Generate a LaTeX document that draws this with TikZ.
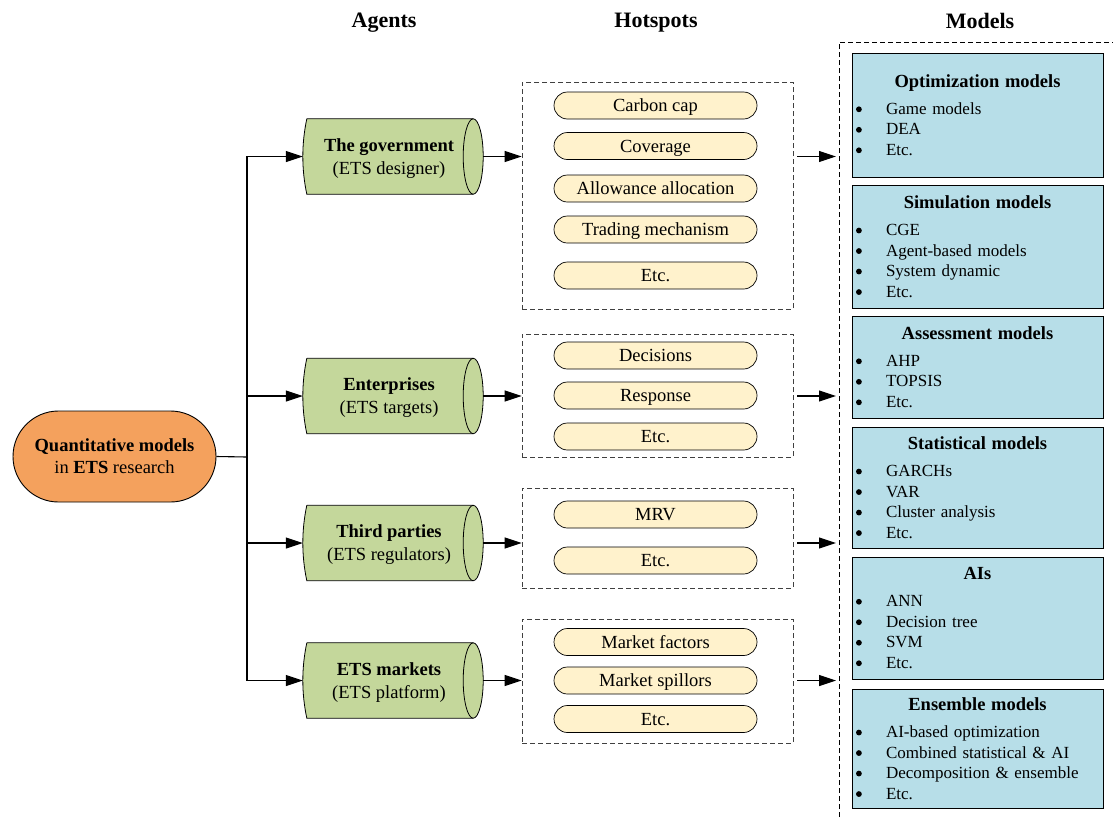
\documentclass[tikz,border=0pt]{standalone}
\usepackage{fontspec}
\setmainfont{Liberation Serif}
\usetikzlibrary{arrows.meta,shapes.misc,calc}
\definecolor{qorange}{HTML}{F4A15D}
\definecolor{agreen}{HTML}{C4D79B}
\definecolor{hyellow}{HTML}{FFF2CC}
\definecolor{mblue}{HTML}{B7DEE8}
\newcommand\cylshape[1]{%
  \fill[agreen] ([xshift=4pt]#1.north west) -- ([xshift=-10pt]#1.north east)
    .. controls +(5.5,0) and +(0,-20.7) .. (#1.east)
    .. controls +(0,20.7) and +(5.5,0) .. ([xshift=-10pt]#1.south east)
    -- ([xshift=4pt]#1.south west)
    .. controls +(-5.3,-25) and +(-5.3,25) .. ([xshift=4pt]#1.north west) -- cycle;
  \draw[line width=0.8pt] ([xshift=4pt]#1.north west) -- ([xshift=-10pt]#1.north east)
    .. controls +(5.5,0) and +(0,-20.7) .. (#1.east)
    .. controls +(0,20.7) and +(5.5,0) .. ([xshift=-10pt]#1.south east)
    -- ([xshift=4pt]#1.south west)
    .. controls +(-5.3,-25) and +(-5.3,25) .. ([xshift=4pt]#1.north west);
  \draw[line width=0.8pt] ([xshift=-10pt]#1.north east)
    .. controls +(-5.5,0) and +(0,-20.7) .. ([xshift=-20pt]#1.east)
    .. controls +(0,20.7) and +(-5.5,0) .. ([xshift=-10pt]#1.south east);
}
\newcommand\mhead[1]{{\centering\fontsize{18.5}{20}\selectfont\bfseries #1\par}\vspace{6.5pt}}
\newcommand\mbul{\tikz[baseline=-5pt]\fill[black] (0,0) circle (2.9pt);}
\newcommand\mitem[1]{\makebox[30pt][l]{\mbul}#1\par}
\begin{document}
\begin{tikzpicture}[x=1pt,y=-1pt,
  conn/.style={line width=1.1pt},
  arr/.style={line width=1.1pt,-{Triangle[length=17pt,width=11pt]}},
  agent/.style={minimum width=180pt,minimum height=75pt,inner sep=0pt,align=center,font=\fontsize{18.5}{23}\selectfont},
  hotbox/.style={draw=black!75,dash pattern=on 5pt off 3pt,line width=0.8pt,minimum width=271pt,inner sep=0pt},
  pill/.style={rounded rectangle,draw,fill=hyellow,line width=0.7pt,minimum width=203pt,minimum height=27pt,inner sep=0pt,text height=12pt,text depth=0pt,font=\fontsize{18.5}{20}\selectfont},
  modelbox/.style={draw,fill=mblue,line width=0.8pt,text width=243pt,inner xsep=4pt,inner ysep=0pt,font=\fontsize{17}{20.5}\selectfont},
  header/.style={font=\fontsize{22}{24}\selectfont\bfseries},
  modeldash/.style={draw=black,dash pattern=on 5pt off 3pt,line width=0.8pt}
]
\useasboundingbox (0,0) rectangle (1113,817);

% headers
\node[header] (hA) at (384,23) {Agents};
\node[header] (hH) at (656,23) {Hotspots};
\node[header] (hM) at (980,21) {Models};

% root
\node[rounded rectangle,draw,fill=qorange,line width=0.9pt,minimum width=203pt,minimum height=91pt,inner sep=0pt,align=center,font=\fontsize{18.5}{22}\selectfont] (q) at (114.5,456.5)
  {\textbf{Quantitative models}\\in \textbf{ETS} research};

% agents
\node[agent] (gov) at (393,156.5) {};
\node[agent] (ent) at (393,396) {};
\node[agent] (third) at (393,543) {};
\node[agent] (mkt) at (393,680.5) {};
\cylshape{gov}\cylshape{ent}\cylshape{third}\cylshape{mkt}
\node[agent,xshift=-4pt,yshift=-2pt] (govt) at (gov) {\textbf{The government}\\(ETS designer)};
\node[agent,xshift=-4pt,yshift=-2pt] (entt) at (ent) {\textbf{Enterprises}\\(ETS targets)};
\node[agent,xshift=-4pt,yshift=-2pt] (thirdt) at (third) {\textbf{Third parties}\\(ETS regulators)};
\node[agent,xshift=-4pt,yshift=-2pt] (mktt) at (mkt) {\textbf{ETS markets}\\(ETS platform)};

% hotspot boxes
\node[hotbox,minimum height=227pt] (hot1) at (657.5,195.5) {};
\node[hotbox,minimum height=123pt] (hot2) at (657.5,395.5) {};
\node[hotbox,minimum height=100pt] (hot3) at (657.5,538) {};
\node[hotbox,minimum height=124pt] (hot4) at (657.5,681) {};

\node[pill] (p11) at (655.5,105.5) {Carbon cap};
\node[pill] (p12) at (655.5,146) {Coverage};
\node[pill] (p13) at (655.5,188.5) {Allowance allocation};
\node[pill] (p14) at (655.5,229.5) {Trading mechanism};
\node[pill] (p15) at (655.5,275.5) {Etc.};
\node[pill] (p21) at (655.5,355.5) {Decisions};
\node[pill] (p22) at (655.5,395.5) {Response};
\node[pill] (p23) at (655.5,436.5) {Etc.};
\node[pill] (p31) at (655.5,514.5) {MRV};
\node[pill] (p32) at (655.5,560.5) {Etc.};
\node[pill] (p41) at (655.5,642) {Market factors};
\node[pill] (p42) at (655.5,680.5) {Market spillors};
\node[pill] (p43) at (655.5,719) {Etc.};

% models container
\coordinate (mleft) at (839,42);
\draw[modeldash] (839,817) -- (mleft) -- (1113,42);

\node[modelbox,minimum height=124pt] (m1) at (977.5,115)
  {\mhead{Optimization models}\mitem{Game models}\mitem{DEA}\mitem{Etc.}};
\node[modelbox,minimum height=123pt] (m2) at (977.5,246.5)
  {\mhead{Simulation models}\mitem{CGE}\mitem{Agent-based models}\mitem{System dynamic}\mitem{Etc.}};
\node[modelbox,minimum height=102pt] (m3) at (977.5,367)
  {\mhead{Assessment models}\mitem{AHP}\mitem{TOPSIS}\mitem{Etc.}};
\node[modelbox,minimum height=121pt] (m4) at (977.5,487.5)
  {\mhead{Statistical models}\mitem{GARCHs}\mitem{VAR}\mitem{Cluster analysis}\mitem{Etc.}};
\node[modelbox,minimum height=122pt] (m5) at (977.5,618)
  {\mhead{AIs}\mitem{ANN}\mitem{Decision tree}\mitem{SVM}\mitem{Etc.}};
\node[modelbox,minimum height=119pt] (m6) at (977.5,748.5)
  {\mhead{Ensemble models}\mitem{AI-based optimization}\mitem{Combined statistical \& AI}\mitem{Decomposition \& ensemble}\mitem{Etc.}};

% connectors
\coordinate (trunk) at (247,457);
\draw[conn] (q.east) -- (trunk);
\draw[conn,line cap=rect] (trunk |- gov.west) -- (trunk |- mkt.west);
\foreach \a in {gov,ent,third,mkt}{
  \draw[arr] (trunk |- \a.west) -- (\a.west);
}
\draw[arr] (gov.east) -- (gov.east -| hot1.west);
\draw[arr] (ent.east) -- (ent.east -| hot2.west);
\draw[arr] (third.east) -- (third.east -| hot3.west);
\draw[arr] (mkt.east) -- (mkt.east -| hot4.west);
\draw[arr] ($(hot1.east |- gov.east)+(4,0)$) -- ($(mleft |- gov.east)+(-3,0)$);
\draw[arr] ($(hot2.east |- ent.east)+(4,0)$) -- ($(mleft |- ent.east)+(-3,0)$);
\draw[arr] ($(hot3.east |- third.east)+(4,0)$) -- ($(mleft |- third.east)+(-3,0)$);
\draw[arr] ($(hot4.east |- mkt.east)+(4,0)$) -- ($(mleft |- mkt.east)+(-3,0)$);
\end{tikzpicture}
\end{document}
